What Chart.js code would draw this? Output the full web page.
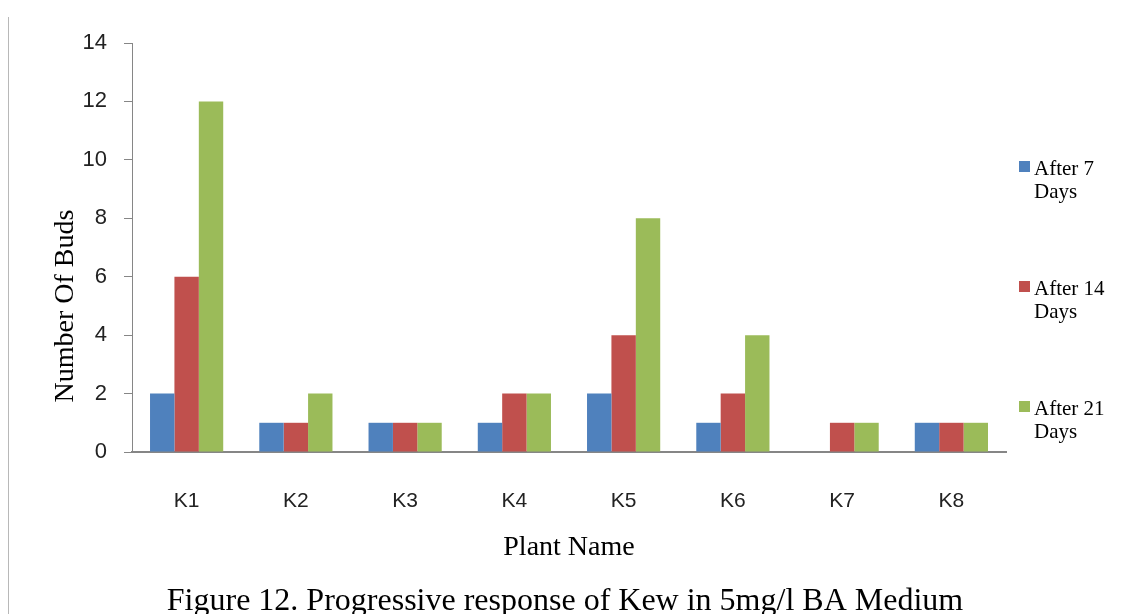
<!DOCTYPE html>
<html>
<head>
<meta charset="utf-8">
<script src="https://cdn.jsdelivr.net/npm/chart.js@4/dist/chart.umd.min.js"></script>
<style>
  body { margin: 0; background: #fff; }
  #wrap { position: relative; width: 1127px; height: 614px; }
  #edge { position: absolute; left: 8px; top: 17px; bottom: 0; width: 1px; background: #b8b8b8; }
</style>
</head>
<body>
<div id="wrap">
  <canvas id="budchart" width="1127" height="614"></canvas>
  <div id="edge"></div>
</div>
<script>
// plant names on the x axis
const plants = ['K1', 'K2', 'K3', 'K4', 'K5', 'K6', 'K7', 'K8'];

// number of buds per plant
const after7 = [2, 1, 1, 1, 2, 1, 0, 1];
const after14 = [6, 1, 1, 2, 4, 2, 1, 1];
const after21 = [12, 2, 1, 2, 8, 4, 1, 1];

// legend text, two lines each
const seriesLabels = [['After 7', 'Days'], ['After 14', 'Days'], ['After 21', 'Days']];
const seriesColors = ['#4F81BD', '#C0504D', '#9BBB59'];

// y axis ticks
const yTicks = [0, 2, 4, 6, 8, 10, 12, 14];

const yTitle = 'Number Of Buds';
const xTitle = 'Plant Name';
const caption = 'Figure 12. Progressive response of Kew in 5mg/l BA Medium';

const axisGray = '#868686';
const serif = '"Liberation Serif", "Times New Roman", serif';
const sans = '"Liberation Sans", Arial, sans-serif';

// titles, caption and the two-line legend are drawn by hand
const textPlugin = {
  id: 'textPlugin',
  afterDraw(chart) {
    const c = chart.ctx;
    const area = chart.chartArea;
    c.save();
    c.fillStyle = '#000';

    // y title, rotated
    c.font = '28px ' + serif;
    c.textAlign = 'center';
    c.textBaseline = 'alphabetic';
    c.save();
    c.translate(73, 306);
    c.rotate(-Math.PI / 2);
    c.fillText(yTitle, 0, 0);
    c.restore();

    // x title
    c.fillText(xTitle, (area.left + area.right) / 2, 555);

    // caption
    c.font = '32px ' + serif;
    c.fillText(caption, 565, 610);

    // legend
    c.font = '21px ' + serif;
    c.textAlign = 'left';
    chart.data.datasets.forEach(function (ds, i) {
      const base = 175 + i * 120;
      c.fillStyle = ds.backgroundColor;
      c.fillRect(1019, base - 14, 11, 11);
      c.fillStyle = '#000';
      seriesLabels[i].forEach(function (line, j) {
        c.fillText(line, 1034, base + j * 23);
      });
    });
    c.restore();
  }
};

const ctx = document.getElementById('budchart').getContext('2d');

const budChart = new Chart(ctx, {
  type: 'bar',
  data: {
    labels: plants,
    datasets: [
      { label: seriesLabels[0].join(' '), data: after7, backgroundColor: seriesColors[0] },
      { label: seriesLabels[1].join(' '), data: after14, backgroundColor: seriesColors[1] },
      { label: seriesLabels[2].join(' '), data: after21, backgroundColor: seriesColors[2] }
    ]
  },
  options: {
    responsive: false,
    animation: false,
    layout: {
      padding: { left: 0, top: 43, right: 121, bottom: 0 }
    },
    datasets: {
      bar: { categoryPercentage: 0.67, barPercentage: 1.0 }
    },
    scales: {
      x: {
        grid: { display: false },
        border: { display: true, color: axisGray, width: 2 },
        ticks: { color: '#222', padding: 29, font: { family: sans, size: 21 } },
        afterFit: function (scale) { scale.height = 162; }
      },
      y: {
        min: 0,
        max: 14,
        afterBuildTicks: function (scale) {
          scale.ticks = yTicks.map(function (v) { return { value: v }; });
        },
        grid: { drawOnChartArea: false, tickLength: 8, color: axisGray },
        border: { display: true, color: axisGray, width: 1 },
        ticks: { color: '#222', padding: 17, font: { family: sans, size: 22 } },
        afterFit: function (scale) { scale.width = 132; }
      }
    },
    plugins: {
      legend: { display: false },
      tooltip: { enabled: false }
    }
  },
  plugins: [textPlugin]
});
</script>
</body>
</html>
